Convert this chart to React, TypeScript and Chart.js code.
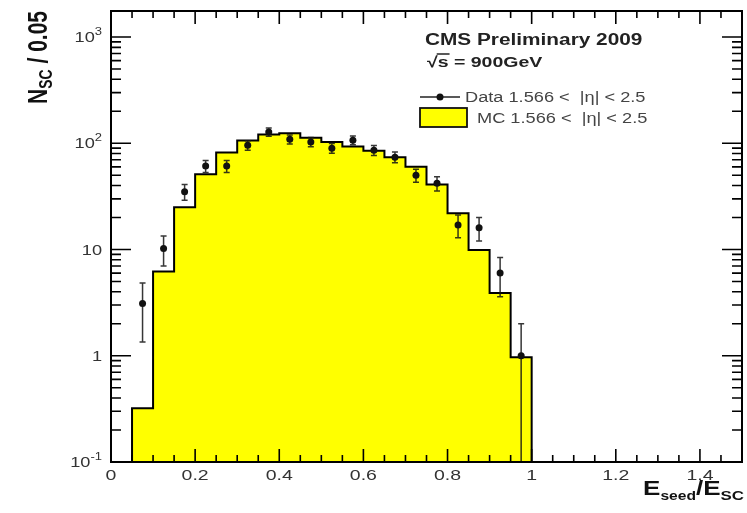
import React, { useEffect, useRef } from 'react';
import { Chart, registerables } from 'chart.js';

Chart.register(...registerables);

// ---- data ----
const binEdges = [0.05, 0.1, 0.15, 0.2, 0.25, 0.3, 0.35, 0.4, 0.45, 0.5, 0.55, 0.6, 0.65, 0.7, 0.75, 0.8, 0.85, 0.9, 0.95, 1.0];
const mcCounts = [0.32, 6.2, 25, 51, 82, 106, 121, 124, 113, 103, 93, 85, 74, 60, 41, 22, 9.9, 3.9, 0.97];
const dataCenters = [0.075, 0.125, 0.175, 0.225, 0.275, 0.325, 0.375, 0.425, 0.475, 0.525, 0.575, 0.625, 0.675, 0.725, 0.775, 0.825, 0.875, 0.925, 0.975];
const dataCounts = [3.1, 10.2, 35, 61, 61, 96, 128, 109, 103, 90, 107, 86, 74, 50, 42, 17, 16, 6, 1];
const dataErrors = [1.75, 3.2, 5.9, 7.8, 7.8, 9.8, 11.3, 10.4, 10.1, 9.5, 10.3, 9.3, 8.6, 7.1, 6.5, 4.1, 4.0, 2.4, 1.0];
const xTickValues = [0, 0.2, 0.4, 0.6, 0.8, 1, 1.2, 1.4];
const xTickLabels = ['0', '0.2', '0.4', '0.6', '0.8', '1', '1.2', '1.4'];
const yTickValues = [0.1, 1, 10, 100, 1000];
const yTickBases = ['10', '1', '10', '10', '10'];
const yTickExps = ['-1', '', '', '2', '3'];
const legendTitle = 'CMS Preliminary 2009';
const legendEnergy = '= 900GeV';
const legendData = 'Data 1.566 <  |η| < 2.5';
const legendMC = 'MC 1.566 <  |η| < 2.5';

const X_MIN = 0;
const X_MAX = 1.5;
const Y_MIN = 0.1;
const Y_MAX = 1758;

type Seg = { t: string; size: number; bold?: boolean; dy?: number };
const FAM = '"Liberation Sans", Arial, sans-serif';
const STRETCH = 1.3;

function fontOf(s: Seg) {
  return `${s.bold ? 'bold ' : ''}${s.size}px ${FAM}`;
}

function segsWidth(ctx: CanvasRenderingContext2D, segs: Seg[]) {
  let w = 0;
  for (const s of segs) {
    ctx.font = fontOf(s);
    w += ctx.measureText(s.t).width;
  }
  return w;
}

function drawSegs(
  ctx: CanvasRenderingContext2D,
  segs: Seg[],
  x: number,
  y: number,
  align: 'left' | 'right' | 'center',
  color: string,
  rotate = false
) {
  ctx.save();
  ctx.translate(x, y);
  ctx.scale(STRETCH, 1);
  if (rotate) ctx.rotate(-Math.PI / 2);
  const w = segsWidth(ctx, segs);
  let cx = align === 'left' ? 0 : align === 'right' ? -w : -w / 2;
  ctx.fillStyle = color;
  ctx.textBaseline = 'alphabetic';
  ctx.textAlign = 'left';
  for (const s of segs) {
    ctx.font = fontOf(s);
    ctx.fillText(s.t, cx, s.dy || 0);
    cx += ctx.measureText(s.t).width;
  }
  ctx.restore();
}

const errorBarPlugin = {
  id: 'errorBars',
  afterDatasetsDraw(chart: any) {
    const ctx: CanvasRenderingContext2D = chart.ctx;
    const xs = chart.scales.x;
    const ys = chart.scales.y;
    const area = chart.chartArea;
    ctx.save();
    ctx.strokeStyle = 'rgba(20,20,20,0.85)';
    ctx.lineWidth = 1.5;
    dataCenters.forEach((xc, i) => {
      const px = xs.getPixelForValue(xc);
      const lo = dataCounts[i] - dataErrors[i];
      const hi = dataCounts[i] + dataErrors[i];
      const pyHi = ys.getPixelForValue(hi);
      const pyLo = lo > Y_MIN ? ys.getPixelForValue(lo) : area.bottom;
      ctx.beginPath();
      ctx.moveTo(px, pyHi);
      ctx.lineTo(px, pyLo);
      ctx.moveTo(px - 3, pyHi);
      ctx.lineTo(px + 3, pyHi);
      if (lo > Y_MIN) {
        ctx.moveTo(px - 3, pyLo);
        ctx.lineTo(px + 3, pyLo);
      }
      ctx.stroke();
    });
    ctx.restore();
  },
};

const framePlugin = {
  id: 'rootFrame',
  afterDraw(chart: any) {
    const ctx: CanvasRenderingContext2D = chart.ctx;
    const xs = chart.scales.x;
    const ys = chart.scales.y;
    const a = chart.chartArea;
    ctx.save();
    // frame
    ctx.strokeStyle = '#000';
    ctx.lineWidth = 2;
    ctx.strokeRect(a.left, a.top, a.right - a.left, a.bottom - a.top);

    // x ticks (bottom and top, inward)
    ctx.lineWidth = 1.6;
    ctx.beginPath();
    for (let k = 0; k <= 30; k++) {
      const v = k * 0.05;
      const px = xs.getPixelForValue(v);
      const major = k % 4 === 0;
      const len = major ? 13 : 7;
      ctx.moveTo(px, a.bottom);
      ctx.lineTo(px, a.bottom - len);
      ctx.moveTo(px, a.top);
      ctx.lineTo(px, a.top + len);
    }
    // y ticks (left and right, inward)
    for (let d = -1; d <= 3; d++) {
      for (let m = 1; m <= 9; m++) {
        const v = m * Math.pow(10, d);
        if (v < Y_MIN || v > Y_MAX) continue;
        const py = ys.getPixelForValue(v);
        const len = m === 1 ? 20 : 10;
        ctx.moveTo(a.left, py);
        ctx.lineTo(a.left + len, py);
        ctx.moveTo(a.right, py);
        ctx.lineTo(a.right - len, py);
      }
    }
    ctx.stroke();

    // x tick labels
    xTickValues.forEach((v, i) => {
      const px = xs.getPixelForValue(v);
      drawSegs(ctx, [{ t: xTickLabels[i], size: 15 }], px, a.bottom + 18, 'center', '#333');
    });
    // y tick labels
    yTickValues.forEach((v, i) => {
      const py = ys.getPixelForValue(v);
      const segs: Seg[] = [{ t: yTickBases[i], size: 14 }];
      if (yTickExps[i]) segs.push({ t: yTickExps[i], size: 10, dy: -7 });
      drawSegs(ctx, segs, 102, py + 5, 'right', '#333');
    });

    // axis titles
    drawSegs(
      ctx,
      [
        { t: 'E', size: 20, bold: true },
        { t: 'seed', size: 12, bold: true, dy: 5 },
        { t: '/E', size: 20, bold: true },
        { t: 'SC', size: 13, bold: true, dy: 5 },
      ],
      744,
      495,
      'right',
      '#111'
    );
    drawSegs(
      ctx,
      [
        { t: 'N', size: 21, bold: true },
        { t: 'SC', size: 14, bold: true, dy: 4 },
        { t: ' / 0.05', size: 21, bold: true },
      ],
      47,
      11,
      'right',
      '#111',
      true
    );

    // legend texts
    drawSegs(ctx, [{ t: legendTitle, size: 16, bold: true }], 425, 45, 'left', '#222');
    // sqrt(s)
    ctx.save();
    ctx.font = `bold 15px ${FAM}`;
    const wRoot = ctx.measureText('√').width * STRETCH;
    const wS = ctx.measureText('s').width * STRETCH;
    ctx.restore();
    drawSegs(ctx, [{ t: '√', size: 15, bold: true }, { t: 's', size: 15, bold: true }, { t: ' ' + legendEnergy, size: 15, bold: true }], 427, 67, 'left', '#222');
    ctx.strokeStyle = '#222';
    ctx.lineWidth = 1.5;
    ctx.beginPath();
    ctx.moveTo(427 + wRoot - 1, 54);
    ctx.lineTo(427 + wRoot + wS + 1, 54);
    ctx.stroke();

    // data legend entry
    ctx.strokeStyle = '#222';
    ctx.lineWidth = 1.5;
    ctx.beginPath();
    ctx.moveTo(420, 97);
    ctx.lineTo(460, 97);
    ctx.stroke();
    ctx.fillStyle = '#111';
    ctx.beginPath();
    ctx.arc(440, 97, 3.5, 0, Math.PI * 2);
    ctx.fill();
    drawSegs(ctx, [{ t: legendData, size: 14 }], 465, 102, 'left', '#444');

    // MC legend entry
    ctx.fillStyle = '#ffff00';
    ctx.fillRect(420, 108, 47, 19);
    ctx.strokeStyle = '#111';
    ctx.lineWidth = 1.8;
    ctx.strokeRect(420, 108, 47, 19);
    drawSegs(ctx, [{ t: legendMC, size: 14 }], 477, 123, 'left', '#444');

    ctx.restore();
  },
};

export default function App() {
  const ref = useRef<HTMLCanvasElement | null>(null);

  useEffect(() => {
    document.body.style.margin = '0';
    const canvas = ref.current;
    if (!canvas) return;

    const histPoints: { x: number; y: number }[] = [];
    histPoints.push({ x: binEdges[0], y: Y_MIN });
    mcCounts.forEach((c, i) => histPoints.push({ x: binEdges[i], y: c }));
    histPoints.push({ x: binEdges[binEdges.length - 1], y: mcCounts[mcCounts.length - 1] });
    histPoints.push({ x: binEdges[binEdges.length - 1], y: Y_MIN });

    const dataPoints = dataCenters.map((x, i) => ({ x, y: dataCounts[i] }));

    const chart = new Chart(canvas, {
      type: 'scatter',
      data: {
        datasets: [
          {
            type: 'line',
            label: 'MC',
            data: histPoints,
            stepped: 'before',
            fill: 'start',
            backgroundColor: '#ffff00',
            borderColor: '#000',
            borderWidth: 2,
            pointRadius: 0,
            order: 2,
          } as any,
          {
            type: 'scatter',
            label: 'Data',
            data: dataPoints,
            pointRadius: 3.5,
            backgroundColor: '#111',
            borderColor: '#111',
            borderWidth: 0,
            order: 1,
          } as any,
        ],
      },
      options: {
        responsive: false,
        animation: false,
        events: [],
        layout: { padding: { left: 111, right: 5, top: 11, bottom: 51 } },
        plugins: {
          legend: { display: false },
          tooltip: { enabled: false },
        },
        scales: {
          x: { type: 'linear', min: X_MIN, max: X_MAX, display: false },
          y: { type: 'logarithmic', min: Y_MIN, max: Y_MAX, display: false },
        },
      },
      plugins: [errorBarPlugin, framePlugin],
    });

    return () => chart.destroy();
  }, []);

  return (
    <div style={{ width: 747, height: 513, background: '#fff' }}>
      <canvas ref={ref} width={747} height={513} style={{ display: 'block' }} />
    </div>
  );
}
